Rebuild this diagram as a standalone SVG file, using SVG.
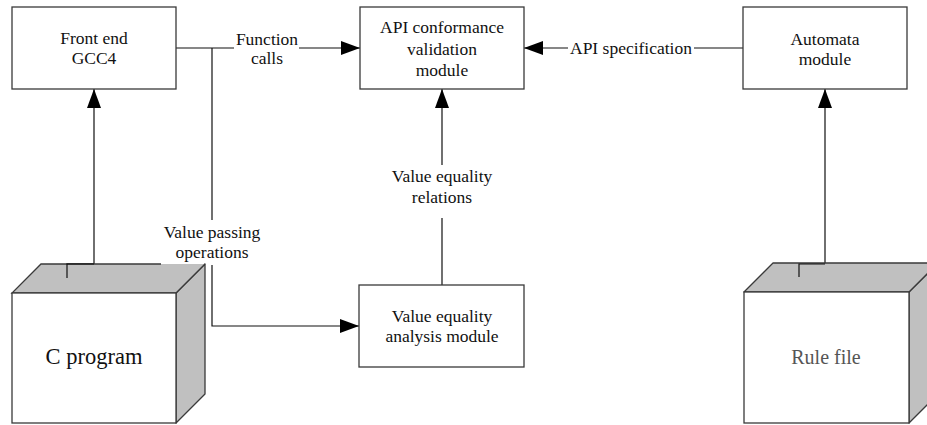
<svg xmlns="http://www.w3.org/2000/svg" width="927" height="425" viewBox="0 0 927 425">
  <style>
    .box { fill: #ffffff; stroke: #3a3a3a; stroke-width: 1.3; }
    .face { fill: #c0c0c0; stroke: #3a3a3a; stroke-width: 1.3; stroke-linejoin: round; }
    .edge { fill: none; stroke: #3a3a3a; stroke-width: 1.3; }
    .link { fill: none; stroke: #111111; stroke-width: 1.2; }
    text { font-family: "Liberation Serif", "Times New Roman", serif; font-size: 17.5px; fill: #111111; text-anchor: middle; }
    .big { font-size: 22.5px; }
  </style>
  <defs>
    <marker id="arrow" markerUnits="userSpaceOnUse" markerWidth="19" markerHeight="14" refX="19" refY="7" orient="auto">
      <path d="M0,0 L19,7 L0,14 z" fill="#000000"/>
    </marker>
  </defs>

  <!-- connectors -->
  <g id="connectors">
    <path class="link" d="M67,278 V264 H94 V89" marker-end="url(#arrow)"/>
    <path class="link" d="M176,48 H234"/>
    <path class="link" d="M299,48 H360" marker-end="url(#arrow)"/>
    <path class="link" d="M212,48 V220"/>
    <path class="link" d="M212,265 V326 H359" marker-end="url(#arrow)"/>
    <path class="link" d="M442,285 V218"/>
    <path class="link" d="M442,165 V89" marker-end="url(#arrow)"/>
    <path class="link" d="M743,48 H694"/>
    <path class="link" d="M568,48 H524" marker-end="url(#arrow)"/>
    <path class="link" d="M799,277 V264 H825 V89" marker-end="url(#arrow)"/>
    <text x="267" y="45">Function</text>
    <text x="267" y="64">calls</text>
    <text x="631" y="54">API specification</text>
    <text x="212" y="238">Value passing</text>
    <text x="212" y="258">operations</text>
    <text x="442" y="182">Value equality</text>
    <text x="442" y="203">relations</text>
  </g>

  <!-- C program (3D block) -->
  <g id="c-program">
    <polygon class="face" points="176,293 205,264 205,394 176,423"/>
    <polygon points="12,293 41,264 205,264 176,293" fill="#c0c0c0"/>
    <polyline class="edge" points="161,264 41,264 12,293 176,293 205,264"/>
    <path class="link" d="M67,278 V264 H94"/>
    <rect class="box" x="12" y="293" width="164" height="130"/>
    <text class="big" x="94" y="364">C program</text>
  </g>

  <!-- Rule file (3D block) -->
  <g id="rule-file">
    <polygon class="face" points="909,292 938,263 938,394 909,423"/>
    <polygon class="face" points="744,292 773,263 938,263 909,292"/>
    <path class="link" d="M799,277 V264 H825"/>
    <rect class="box" x="744" y="292" width="165" height="131"/>
    <text x="826" y="364" style="font-size:20px; fill:#555555">Rule file</text>
  </g>

  <g id="front-end">
    <rect class="box" x="12" y="7" width="164" height="82"/>
    <text x="94" y="44">Front end</text>
    <text x="94" y="64">GCC4</text>
  </g>

  <g id="api-validation">
    <rect class="box" x="360" y="7" width="164" height="82"/>
    <text x="442" y="33">API conformance</text>
    <text x="442" y="54.5">validation</text>
    <text x="442" y="76">module</text>
  </g>

  <g id="automata">
    <rect class="box" x="743" y="7" width="164" height="82"/>
    <text x="825" y="45">Automata</text>
    <text x="825" y="65">module</text>
  </g>

  <g id="value-equality">
    <rect class="box" x="359" y="285" width="165" height="82"/>
    <text x="442" y="322">Value equality</text>
    <text x="442" y="342">analysis module</text>
  </g>
</svg>
